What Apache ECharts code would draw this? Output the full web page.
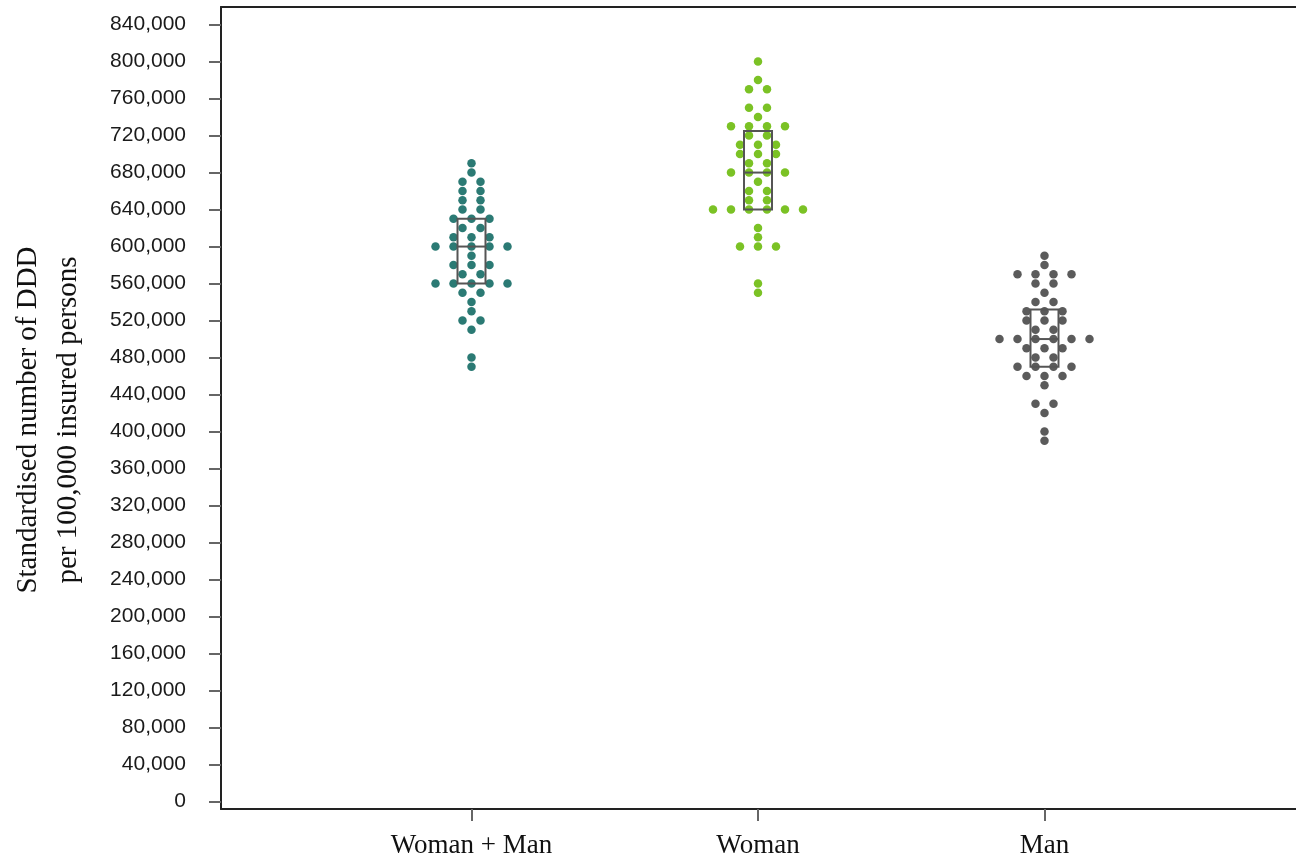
<!DOCTYPE html>
<html>
<head>
<meta charset="utf-8">
<script src="https://cdn.jsdelivr.net/npm/echarts@6/dist/echarts.min.js"></script>
<style>
  html, body { margin: 0; padding: 0; background: #fff; }
  #chart { width: 1296px; height: 857px; }
</style>
</head>
<body>
<div id="chart"></div>
<script>
// Group names along the x axis
const categories = ['Woman + Man', 'Woman', 'Man'];

// One value per region (standardised DDD per 100,000 insured persons)
const womanManValues = [
  690000, 680000, 670000, 670000, 660000, 660000, 650000, 650000, 640000, 640000,
  630000, 630000, 630000, 620000, 620000, 610000, 610000, 610000,
  600000, 600000, 600000, 600000, 600000, 590000, 580000, 580000, 580000,
  570000, 570000, 560000, 560000, 560000, 560000, 560000, 550000, 550000,
  540000, 530000, 520000, 520000, 510000, 480000, 470000
];
const womanValues = [
  800000, 780000, 770000, 770000, 750000, 750000, 740000,
  730000, 730000, 730000, 730000, 720000, 720000, 710000, 710000, 710000,
  700000, 700000, 700000, 690000, 690000, 680000, 680000, 680000, 680000,
  670000, 660000, 660000, 650000, 650000,
  640000, 640000, 640000, 640000, 640000, 640000,
  620000, 610000, 600000, 600000, 600000, 560000, 550000
];
const manValues = [
  590000, 580000, 570000, 570000, 570000, 570000, 560000, 560000, 550000,
  540000, 540000, 530000, 530000, 530000, 520000, 520000, 520000, 510000, 510000,
  500000, 500000, 500000, 500000, 500000, 500000, 490000, 490000, 490000,
  480000, 480000, 470000, 470000, 470000, 470000, 460000, 460000, 460000,
  450000, 430000, 430000, 420000, 400000, 390000
];

// Box summaries per group: [Q1, median, Q3]
const womanManBox = [560000, 600000, 630000];
const womanBox = [640000, 680000, 725000];
const manBox = [470000, 500000, 532000];

// Tick values on the y axis
const yTicks = [0, 40000, 80000, 120000, 160000, 200000, 240000, 280000, 320000, 360000,
  400000, 440000, 480000, 520000, 560000, 600000, 640000, 680000, 720000, 760000, 800000, 840000];

const groups = [
  { values: womanManValues, box: womanManBox, color: '#2b7a74' },
  { values: womanValues, box: womanBox, color: '#7bc225' },
  { values: manValues, box: manBox, color: '#5b5b5b' }
];

const DOT_STEP = 18;   // horizontal spacing between dots sharing a value (px)
const BOX_HALF = 14;   // half width of the box (px)

// Lay the dots of one group side by side, centred on the group's position
function dotData(values, pos) {
  const counts = new Map();
  values.forEach(v => counts.set(v, (counts.get(v) || 0) + 1));
  const seen = new Map();
  return values.map(v => {
    const n = counts.get(v);
    const k = seen.get(v) || 0;
    seen.set(v, k + 1);
    return { value: [pos, v], symbolOffset: [(k - (n - 1) / 2) * DOT_STEP, 0] };
  });
}

const positions = categories.map((c, i) => i + 1);
const xMin = 0.12565, xMax = 3.87783;

const scatterSeries = groups.map((g, i) => ({
  type: 'scatter',
  name: categories[i],
  data: dotData(g.values, positions[i]),
  symbol: 'circle',
  symbolSize: 8.5,
  itemStyle: { color: g.color, opacity: 1 },
  z: 2
}));

const boxSeries = {
  type: 'custom',
  data: groups.map((g, i) => [positions[i], g.box[0], g.box[1], g.box[2]]),
  encode: { x: 0, y: [1, 2, 3] },
  z: 3,
  renderItem: function (params, api) {
    const x = api.value(0);
    const top = api.coord([x, api.value(3)]);
    const bot = api.coord([x, api.value(1)]);
    const mid = api.coord([x, api.value(2)]);
    const stroke = { stroke: '#555', lineWidth: 2, fill: 'none' };
    return {
      type: 'group',
      children: [
        { type: 'rect', shape: { x: top[0] - BOX_HALF, y: top[1], width: BOX_HALF * 2, height: bot[1] - top[1] }, style: stroke },
        { type: 'line', shape: { x1: top[0] - BOX_HALF, y1: mid[1], x2: top[0] + BOX_HALF, y2: mid[1] }, style: stroke }
      ]
    };
  }
};

const chart = echarts.init(document.getElementById('chart'), null, { renderer: 'canvas' });
chart.setOption({
  animation: false,
  backgroundColor: '#fff',
  grid: { left: 221, right: 0, top: 7, bottom: 48, containLabel: false, outerBoundsMode: 'none' },
  xAxis: [
    {
      type: 'value', position: 'bottom', min: xMin, max: xMax,
      axisLine: { show: true, onZero: false, lineStyle: { color: '#222', width: 2 } },
      axisTick: { show: true, customValues: positions, length: 12, lineStyle: { color: '#666', width: 2 } },
      axisLabel: {
        customValues: positions,
        formatter: v => categories[Math.round(v) - 1],
        margin: 23, fontFamily: 'Liberation Serif', fontSize: 27, color: '#111'
      },
      splitLine: { show: false }
    },
    {
      type: 'value', position: 'top', min: xMin, max: xMax,
      axisLine: { show: true, onZero: false, lineStyle: { color: '#222', width: 2 } },
      axisTick: { show: false }, axisLabel: { show: false }, splitLine: { show: false }
    }
  ],
  yAxis: {
    type: 'value', min: -8100, max: 859000,
    axisLine: { show: true, onZero: false, lineStyle: { color: '#222', width: 2 } },
    axisTick: { show: true, customValues: yTicks, length: 12, lineStyle: { color: '#666', width: 2 } },
    axisLabel: {
      customValues: yTicks,
      formatter: v => v.toLocaleString('en-US'),
      margin: 35, fontFamily: 'Liberation Sans', fontSize: 21, color: '#1a1a1a'
    },
    splitLine: { show: false }
  },
  graphic: [{
    type: 'text',
    x: 48, y: 420,
    rotation: Math.PI / 2,
    style: {
      text: 'Standardised number of DDD\nper 100,000 insured persons',
      font: '29px "Liberation Serif"',
      fill: '#111',
      align: 'center',
      verticalAlign: 'middle',
      lineHeight: 40
    }
  }],
  series: [...scatterSeries, boxSeries]
});
</script>
</body>
</html>
